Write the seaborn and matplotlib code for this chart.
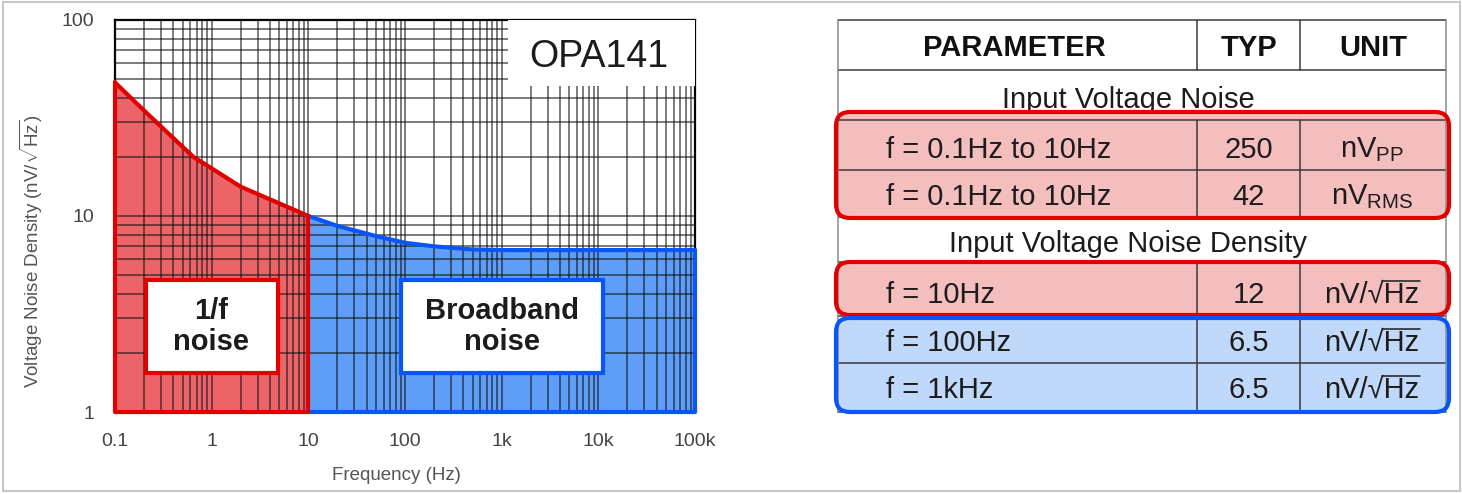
import matplotlib
matplotlib.use("Agg")
import matplotlib.pyplot as plt
import seaborn as sns
from matplotlib.patches import Rectangle, FancyBboxPatch
from matplotlib.ticker import FixedLocator, LogLocator, NullFormatter

# OPA141 voltage noise density
freq_1f = [0.1, 0.2, 0.4, 0.65, 1, 2, 5, 10]
noise_1f = [48, 34.5, 25, 20, 17.5, 14.1, 11.6, 10]

freq_bb = [10, 20, 50, 100, 200, 500, 1000, 10000, 100000]
noise_bb = [10, 8.9, 7.9, 7.3, 7.0, 6.75, 6.7, 6.7, 6.7]

x_ticks = [0.1, 1, 10, 100, 1000, 10000, 100000]
x_labels = ["0.1", "1", "10", "100", "1k", "10k", "100k"]
y_ticks = [1, 10, 100]
y_labels = ["1", "10", "100"]

# datasheet table
table_header = ["PARAMETER", "TYP", "UNIT"]
section_titles = ["Input Voltage Noise", "Input Voltage Noise Density"]
param_rows = ["f = 0.1Hz to 10Hz", "f = 0.1Hz to 10Hz", "f = 10Hz", "f = 100Hz", "f = 1kHz"]
typ_values = ["250", "42", "12", "6.5", "6.5"]
sqrt_hz = "nV/\u221aHz"
unit_rows = [r"nV$_\mathrm{PP}$", r"nV$_\mathrm{RMS}$", sqrt_hz, sqrt_hz, sqrt_hz]

RED = "#E00000"
RED_FILL = "#EC6468"
BLUE = "#0A55F5"
BLUE_FILL = "#5E9EF7"
RED_ROW = "#F5BEBE"
BLUE_ROW = "#C0D8FA"
INK = "#1c1c1c"

sns.set_style("white")
plt.rcParams["font.family"] = ["Liberation Sans", "DejaVu Sans"]
plt.rcParams["mathtext.fontset"] = "custom"
plt.rcParams["mathtext.rm"] = "Liberation Sans"
plt.rcParams["mathtext.it"] = "Liberation Sans:italic"
plt.rcParams["mathtext.bf"] = "Liberation Sans:bold"

W, H = 1462, 494
fig = plt.figure(figsize=(W / 100, H / 100), dpi=100)

# ---- noise density plot ----
ax = fig.add_axes([115 / W, (H - 412) / H, 580 / W, 392 / H])
ax.set_xscale("log")
ax.set_yscale("log")
ax.set_xlim(0.1, 100000)
ax.set_ylim(1, 100)

ax.fill_between(freq_1f, 1, noise_1f, color=RED_FILL, lw=0, zorder=1)
ax.fill_between(freq_bb, 1, noise_bb, color=BLUE_FILL, lw=0, zorder=1)

ax.xaxis.set_major_locator(FixedLocator(x_ticks))
ax.set_xticklabels(x_labels)
ax.yaxis.set_major_locator(FixedLocator(y_ticks))
ax.set_yticklabels(y_labels)
ax.xaxis.set_minor_locator(LogLocator(base=10, subs=range(2, 10), numticks=20))
ax.yaxis.set_minor_locator(LogLocator(base=10, subs=range(2, 10), numticks=20))
ax.xaxis.set_minor_formatter(NullFormatter())
ax.yaxis.set_minor_formatter(NullFormatter())
ax.set_axisbelow(False)
ax.grid(True, which="both", color="#111111", lw=1.1, alpha=0.7, zorder=2)
ax.tick_params(which="both", length=0, pad=15, labelsize=14, labelcolor="#444444")

for s in ax.spines.values():
    s.set_color("black")
    s.set_linewidth(1.6)

# region outlines
ax.plot([100000, 100000, 10], [noise_bb[-1], 1, 1], color=BLUE, lw=3, zorder=4)
sns.lineplot(x=freq_bb, y=noise_bb, ax=ax, color=BLUE, lw=3, zorder=4)
ax.plot([10, 10, 0.1, 0.1], [noise_1f[-1], 1, 1, noise_1f[0]], color=RED, lw=3, zorder=5)
sns.lineplot(x=freq_1f, y=noise_1f, ax=ax, color=RED, lw=3, zorder=5)
for ln in ax.lines:
    ln.set_clip_on(False)

# part number box
ax.add_patch(Rectangle((0.678, 0.832), 0.322, 0.168, transform=ax.transAxes,
                       facecolor="white", edgecolor="none", zorder=3))
ax.text(0.834, 0.906, "OPA141", transform=ax.transAxes, fontsize=27,
        ha="center", va="center", color=INK, zorder=6)

# region labels
ax.add_patch(Rectangle((0.053, 0.0995), 0.228, 0.2375, transform=ax.transAxes,
                       facecolor="white", edgecolor=RED, lw=3, zorder=6))
ax.text(0.1655, 0.219, "1/f\nnoise", transform=ax.transAxes, fontsize=21,
        fontweight="bold", ha="center", va="center", linespacing=1.15,
        color=INK, zorder=7)
ax.add_patch(Rectangle((0.493, 0.0995), 0.348, 0.2375, transform=ax.transAxes,
                       facecolor="white", edgecolor=BLUE, lw=3, zorder=6))
ax.text(0.667, 0.219, "Broadband\nnoise", transform=ax.transAxes, fontsize=21,
        fontweight="bold", ha="center", va="center", linespacing=1.15,
        color=INK, zorder=7)

ax.set_xlabel("Frequency (Hz)", fontsize=13.5, color="#555555")
ax.xaxis.set_label_coords(0.486, -0.141)
ax.set_ylabel(r"Voltage Noise Density (nV/$\sqrt{\mathrm{Hz}}$)",
              fontsize=13.5, color="#555555")
ax.yaxis.set_label_coords(-0.12, 0.41)

# ---- table, drawn in pixel coordinates ----
tb = fig.add_axes([0, 0, 1, 1], facecolor="none")
tb.set_xlim(0, W)
tb.set_ylim(H, 0)
tb.axis("off")

left, right = 838, 1446
col1, col2 = 1197, 1300
row_lines = [20, 70, 120, 170, 217, 262, 316, 363, 412]
row_mid = [45, 97, 147, 194, 241, 292, 340, 387]
data_rows = [2, 3, 5, 6, 7]
section_rows = [1, 4]
FS = 21
half_cap = 10.5

# highlight boxes (fill below lines, edge on top)
boxes = [(112, 218, RED_ROW, RED), (262, 315, RED_ROW, RED), (318, 412, BLUE_ROW, BLUE)]
for y0, y1, fc, ec in boxes:
    for face, edge, z in [(fc, "none", 1), ("none", ec, 4)]:
        tb.add_patch(FancyBboxPatch((836, y0), 1449 - 836, y1 - y0,
                                    boxstyle="round,pad=0,rounding_size=14",
                                    facecolor=face, edgecolor=edge, lw=3, zorder=z))

for y in row_lines:
    tb.plot([left, right], [y, y], color="#3a3a3a", lw=1.1, zorder=2)
tb.plot([left, left], [20, 412], color="#8a8a8a", lw=1.1, zorder=2)
tb.plot([right, right], [20, 412], color="#8a8a8a", lw=1.1, zorder=2)
for r in [0] + data_rows:
    for cx in (col1, col2):
        tb.plot([cx, cx], [row_lines[r], row_lines[r + 1]], color="#3a3a3a", lw=1.1, zorder=2)

for txt, cx in zip(table_header, [1014, (col1 + col2) / 2, (col2 + right) / 2]):
    tb.text(cx, row_mid[0] + half_cap, txt, fontsize=FS, fontweight="bold",
            ha="center", va="baseline", color="#111111", zorder=3)

for r, title in zip(section_rows, section_titles):
    tb.text(1128, row_mid[r] + half_cap, title, fontsize=FS, ha="center",
            va="baseline", color=INK, zorder=3)

unit_texts = []
for r, p, v, u in zip(data_rows, param_rows, typ_values, unit_rows):
    by = row_mid[r] + half_cap
    tb.text(886, by, p, fontsize=FS, ha="left", va="baseline", color=INK, zorder=3)
    tb.text(1249, by, v, fontsize=FS, ha="center", va="baseline", color=INK, zorder=3)
    unit_texts.append(tb.text(1372, by, u, fontsize=FS, ha="center", va="baseline",
                              color=INK, zorder=3))

# overline the "Hz" under the square root sign
fig.canvas.draw()
renderer = fig.canvas.get_renderer()
probe = tb.text(0, 0, "Hz", fontsize=FS)
hz_w = probe.get_window_extent(renderer).width
probe.remove()
for t in unit_texts:
    if t.get_text() != sqrt_hz:
        continue
    bb = t.get_window_extent(renderer)
    _, by = t.get_position()
    top = by - 22
    tb.plot([bb.x1 - hz_w - 1, bb.x1], [top, top], color=INK, lw=1.1, zorder=3)

# light frame round the whole picture
tb.add_patch(Rectangle((3, 2), 1457, 489, facecolor="none", edgecolor="#c8c8c8", lw=1.5))

fig.savefig("out.png", dpi=100)
